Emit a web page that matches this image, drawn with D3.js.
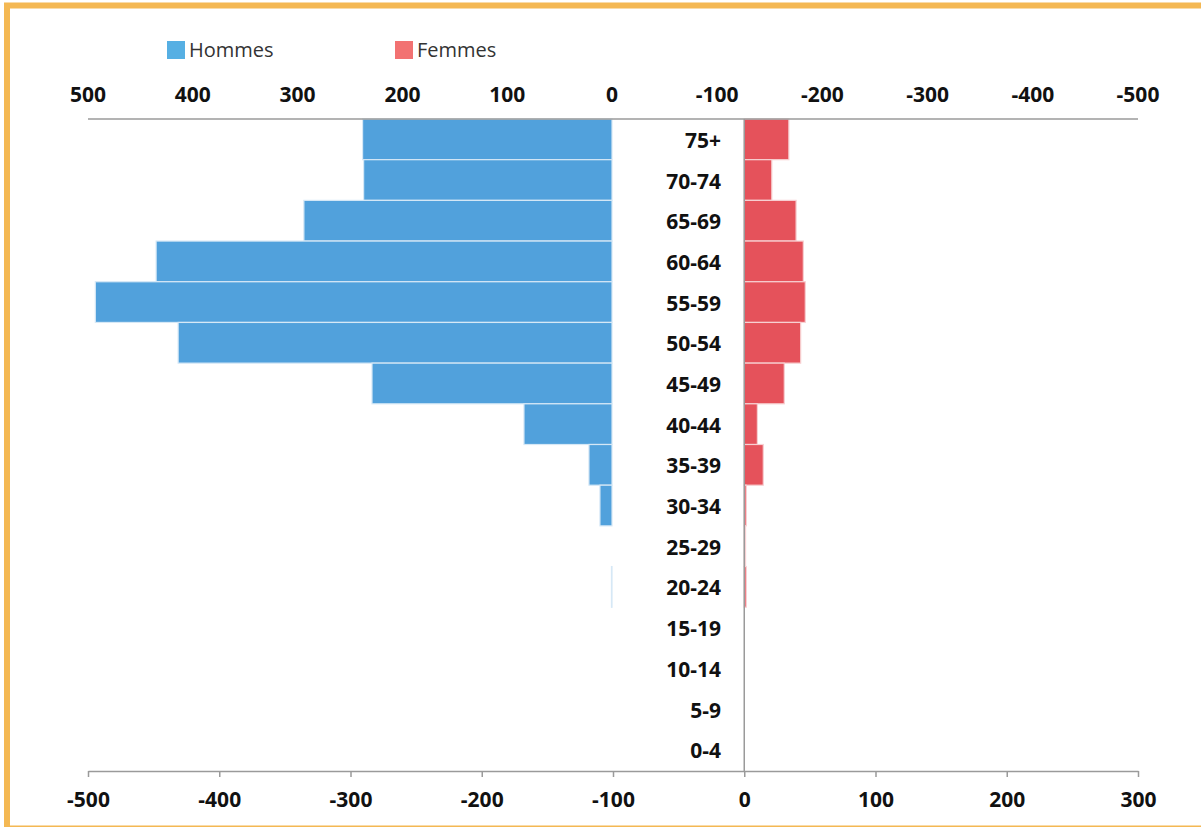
<!DOCTYPE html>
<html>
<head>
<meta charset="utf-8">
<script src="https://cdn.jsdelivr.net/npm/d3@7"></script>
<style>
  html, body { margin: 0; padding: 0; background: #fff; overflow: hidden; }
  svg { display: block; font-family: "Open Sans", sans-serif; }
</style>
</head>
<body>
<svg id="chart" width="1201" height="827"></svg>
<script>
// ---- Data ----
const ageGroups = ["75+", "70-74", "65-69", "60-64", "55-59", "50-54", "45-49", "40-44",
                   "35-39", "30-34", "25-29", "20-24", "15-19", "10-14", "5-9", "0-4"];
const hommes = [238, 237, 294, 435, 493, 414, 229, 84, 22, 11.5, 0, 0.5, 0, 0, 0, 0];
const femmes = [34, 21, 39.5, 45, 46.5, 43, 30.5, 10, 14.5, 1.5, 1, 1.5, 0, 0, 0, 0];
const topLeftTicks = [500, 400, 300, 200, 100, 0];
const topRightTicks = [-100, -200, -300, -400, -500];
const bottomTicks = [-500, -400, -300, -200, -100, 0, 100, 200, 300];
const seriesNames = ["Hommes", "Femmes"];

// ---- Layout ----
const svg = d3.select("#chart");
const plotLeft = 88, plotRight = 1138, plotTop = 119, plotBottom = 770;
const centerX = 612;

const xBottom = d3.scaleLinear().domain([-500, 300]).range([plotLeft, plotRight]);
const xTopLeft = d3.scaleLinear().domain([500, 0]).range([plotLeft, centerX]);
const xTopRight = d3.scaleLinear().domain([0, -500]).range([centerX, plotRight]);
const y = d3.scaleBand().domain(ageGroups).range([plotTop, plotBottom]).padding(0);

const blue = "#51a1dc", red = "#e5525b";
const axisGray = "#9a9a9a";
const fs = 21;

// Frame
svg.append("rect")
  .attr("x", 7).attr("y", 5.5).attr("width", 1205).attr("height", 823.5)
  .attr("fill", "none").attr("stroke", "#f4b853").attr("stroke-width", 6);
svg.append("line").attr("x1", 10).attr("x2", 1201).attr("y1", 826.5).attr("y2", 826.5)
  .attr("stroke", "#f4b853").attr("stroke-width", 2);

// Legend
const legend = [
  { name: seriesNames[0], color: "#56afe3", x: 167 },
  { name: seriesNames[1], color: "#f27272", x: 395 }
];
legend.forEach(l => {
  svg.append("rect").attr("x", l.x).attr("y", 41).attr("width", 18).attr("height", 18).attr("fill", l.color);
  svg.append("text").attr("x", l.x + 22).attr("y", 57).attr("font-size", 20)
    .attr("fill", "#333").text(l.name);
});

// Bars - Hommes
svg.append("g").selectAll("rect").data(ageGroups).join("rect")
  .attr("x", (d, i) => xTopLeft(hommes[i]))
  .attr("y", d => y(d))
  .attr("width", (d, i) => xTopLeft(0) - xTopLeft(hommes[i]))
  .attr("height", y.bandwidth())
  .attr("fill", blue)
  .attr("stroke", (d, i) => hommes[i] > 0 ? "#d6e8f6" : "none")
  .attr("stroke-width", 1.2);

// Bars - Femmes
svg.append("g").selectAll("rect").data(ageGroups).join("rect")
  .attr("x", xBottom(0))
  .attr("y", d => y(d))
  .attr("width", (d, i) => xBottom(femmes[i]) - xBottom(0))
  .attr("height", y.bandwidth())
  .attr("fill", red)
  .attr("stroke", (d, i) => femmes[i] > 0 ? "#f7d0d2" : "none")
  .attr("stroke-width", 1.2);

// Top axis line
svg.append("line").attr("x1", plotLeft).attr("x2", plotRight).attr("y1", plotTop).attr("y2", plotTop)
  .attr("stroke", axisGray).attr("stroke-width", 1.5);

// Center vertical line at 0
svg.append("line").attr("x1", xBottom(0)).attr("x2", xBottom(0)).attr("y1", plotTop).attr("y2", plotBottom + 1)
  .attr("stroke", axisGray).attr("stroke-width", 1.5);

// Top tick labels
const topG = svg.append("g").attr("font-size", fs).attr("font-weight", "bold").attr("fill", "#111")
  .attr("text-anchor", "middle");
topG.selectAll("text.tl").data(topLeftTicks).join("text").attr("class", "tl")
  .attr("x", d => xTopLeft(d)).attr("y", 101.5).text(d => d);
topG.selectAll("text.tr").data(topRightTicks).join("text").attr("class", "tr")
  .attr("x", d => xTopRight(d)).attr("y", 101.5).text(d => d);

// Bottom axis
const bottomAxis = d3.axisBottom(xBottom).tickValues(bottomTicks).tickSize(6).tickPadding(15)
  .tickSizeOuter(0).tickFormat(d => String(d));
const bg = svg.append("g").attr("transform", `translate(0,${plotBottom + 1})`).call(bottomAxis);
bg.select(".domain").attr("stroke", axisGray).attr("stroke-width", 1.5);
bg.selectAll(".tick line").attr("stroke", axisGray).attr("stroke-width", 1.5);
bg.selectAll(".tick text").attr("font-size", fs).attr("font-weight", "bold").attr("fill", "#111")
  .attr("font-family", "Open Sans, sans-serif");

// Category labels
svg.append("g").selectAll("text").data(ageGroups).join("text")
  .attr("x", 721)
  .attr("y", d => y(d) + y.bandwidth() / 2 + 1)
  .attr("dy", "0.36em")
  .attr("text-anchor", "end")
  .attr("font-size", fs).attr("font-weight", "bold").attr("fill", "#111")
  .text(d => d);
</script>
</body>
</html>
